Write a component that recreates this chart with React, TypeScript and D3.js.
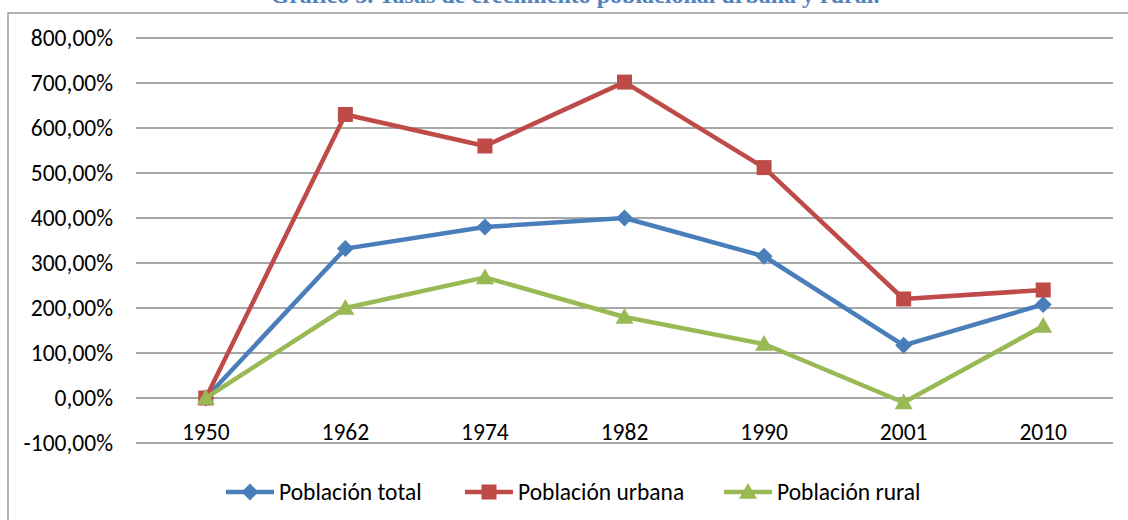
import React from "react";
import * as d3 from "d3";

const years = ["1950", "1962", "1974", "1982", "1990", "2001", "2010"];
const total = [0, 332, 380, 400, 315, 117, 208];
const urbana = [0, 630, 560, 702, 512, 220, 240];
const rural = [0, 200, 268, 180, 120, -10, 160];
const yTicks = [-100, 0, 100, 200, 300, 400, 500, 600, 700, 800];
const seriesNames = ["Población total", "Población urbana", "Población rural"];
const title = "Gráfico 5. Tasas de crecimiento poblacional urbana y rural.";

const W = 1128;
const H = 520;
const left = 136;
const right = 1113;
const top = 38;
const bottom = 443;

const colors = ["#4a7ebb", "#be4b48", "#98b954"];
const font = "Carlito, 'Liberation Sans Narrow', 'Noto Sans', sans-serif";
const fs = 23.5;

function Marker({ kind, x, y, color }: { kind: number; x: number; y: number; color: string }) {
  if (kind === 0) {
    const s = 8.5;
    return <path d={`M${x},${y - s}L${x + s},${y}L${x},${y + s}L${x - s},${y}Z`} fill={color} />;
  }
  if (kind === 1) {
    const s = 7.5;
    return <rect x={x - s} y={y - s} width={2 * s} height={2 * s} fill={color} />;
  }
  const s = 9;
  return <path d={`M${x},${y - s}L${x + s},${y + s * 0.75}L${x - s},${y + s * 0.75}Z`} fill={color} />;
}

export default function App() {
  const x = d3.scaleBand<string>().domain(years).range([left, right]).padding(0);
  const y = d3.scaleLinear().domain([-100, 800]).range([bottom, top]);
  const cx = (d: string) => (x(d) as number) + x.bandwidth() / 2;
  const line = d3
    .line<number>()
    .x((_, i) => cx(years[i]))
    .y((v) => y(v));
  const data = [total, urbana, rural];
  const fmt = (v: number) => d3.format(".2f")(v).replace(".", ",").replace("−", "-") + "%";

  const legendX = [226, 465, 724];

  return (
    <svg width={W} height={H} style={{ position: "absolute", left: 0, top: 0, background: "#fff" }}>
      <text
        x={575}
        y={3}
        textAnchor="middle"
        fill="#4f81bd"
        fontFamily="'Liberation Serif', 'Times New Roman', serif"
        fontWeight="bold"
        fontSize={24}
      >
        {title}
      </text>
      <rect x={8} y={13} width={1200} height={600} fill="none" stroke="#8c8c8c" strokeWidth={1.3} />
      {yTicks.map((t) => (
        <g key={t}>
          <line x1={left} x2={right} y1={y(t)} y2={y(t)} stroke="#8a8a8a" strokeWidth={1.5} />
          <text x={113} y={y(t)} dy="0.35em" textAnchor="end" fontFamily={font} fontSize={fs} fill="#000">
            {fmt(t)}
          </text>
        </g>
      ))}
      {years.map((yr) => (
        <text key={yr} x={cx(yr)} y={432} dy="0.35em" textAnchor="middle" fontFamily={font} fontSize={fs} fill="#000">
          {yr}
        </text>
      ))}
      {data.map((vals, si) => (
        <g key={si}>
          <path d={line(vals) as string} fill="none" stroke={colors[si]} strokeWidth={4.5} strokeLinejoin="round" />
          {vals.map((v, i) => (
            <Marker key={i} kind={si} x={cx(years[i])} y={y(v)} color={colors[si]} />
          ))}
        </g>
      ))}
      {seriesNames.map((n, i) => (
        <g key={n}>
          <line x1={legendX[i]} x2={legendX[i] + 48} y1={492} y2={492} stroke={colors[i]} strokeWidth={4.5} />
          <Marker kind={i} x={legendX[i] + 24} y={492} color={colors[i]} />
          <text x={legendX[i] + 53} y={492} dy="0.35em" fontFamily={font} fontSize={fs} fill="#000">
            {n}
          </text>
        </g>
      ))}
    </svg>
  );
}
